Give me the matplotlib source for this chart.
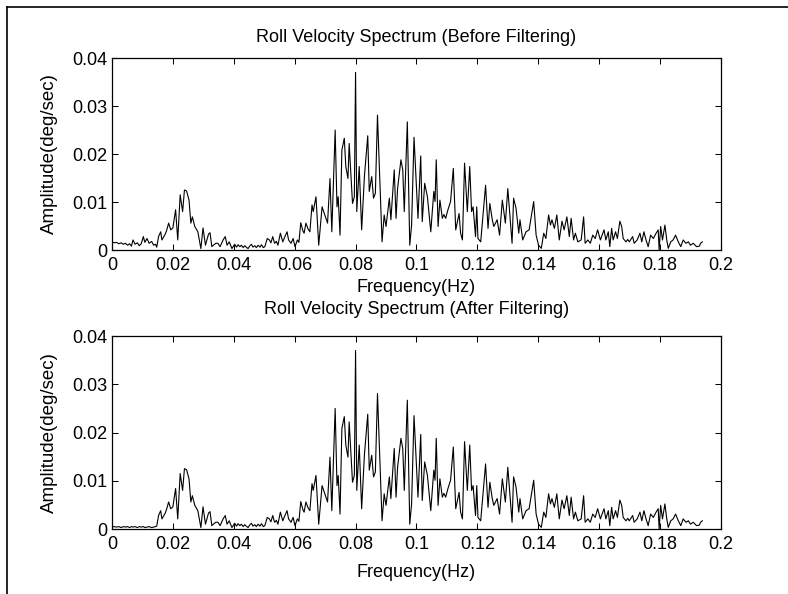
import numpy as np
import matplotlib
matplotlib.use("Agg")
import matplotlib.pyplot as plt
from matplotlib.lines import Line2D

plt.rcParams["font.family"] = ["Liberation Sans", "DejaVu Sans"]

# frequency (Hz) and amplitude (1e-3 deg/sec)
freq = [
    0.0000, 0.0008, 0.0015, 0.0022, 0.0030, 0.0037, 0.0044, 0.0051, 0.0058, 0.0064,
    0.0069, 0.0076, 0.0083, 0.0090, 0.0096, 0.0103, 0.0108, 0.0115, 0.0122, 0.0130,
    0.0137, 0.0143, 0.0147, 0.0153, 0.0160, 0.0164, 0.0175, 0.0180, 0.0186, 0.0193,
    0.0200, 0.0209, 0.0216, 0.0224, 0.0232, 0.0238, 0.0245, 0.0253, 0.0259, 0.0264,
    0.0272, 0.0282, 0.0292, 0.0299, 0.0307, 0.0317, 0.0322, 0.0328, 0.0333, 0.0341,
    0.0348, 0.0355, 0.0365, 0.0372, 0.0378, 0.0385, 0.0394, 0.0403, 0.0409, 0.0414,
    0.0420, 0.0425, 0.0431, 0.0436, 0.0441, 0.0447, 0.0452, 0.0458, 0.0463, 0.0469,
    0.0474, 0.0480, 0.0486, 0.0491, 0.0497, 0.0502, 0.0510, 0.0517, 0.0522, 0.0528,
    0.0534, 0.0540, 0.0545, 0.0553, 0.0561, 0.0568, 0.0575, 0.0580, 0.0588, 0.0595,
    0.0601, 0.0609, 0.0614, 0.0620, 0.0627, 0.0631, 0.0637, 0.0644, 0.0650, 0.0657,
    0.0661, 0.0670, 0.0679, 0.0690, 0.0701, 0.0708, 0.0716, 0.0722, 0.0733, 0.0739,
    0.0743, 0.0749, 0.0755, 0.0763, 0.0768, 0.0775, 0.0779, 0.0790, 0.0796, 0.0800,
    0.0804, 0.0812, 0.0820, 0.0829, 0.0840, 0.0845, 0.0853, 0.0859, 0.0865, 0.0872,
    0.0887, 0.0894, 0.0900, 0.0911, 0.0916, 0.0927, 0.0933, 0.0938, 0.0949, 0.0955,
    0.0960, 0.0970, 0.0978, 0.0984, 0.0992, 0.1005, 0.1014, 0.1019, 0.1027, 0.1036,
    0.1047, 0.1057, 0.1061, 0.1065, 0.1071, 0.1077, 0.1085, 0.1090, 0.1096, 0.1103,
    0.1112, 0.1121, 0.1129, 0.1140, 0.1145, 0.1151, 0.1158, 0.1167, 0.1175, 0.1181,
    0.1186, 0.1194, 0.1198, 0.1202, 0.1211, 0.1227, 0.1235, 0.1241, 0.1249, 0.1254,
    0.1265, 0.1273, 0.1282, 0.1292, 0.1300, 0.1314, 0.1319, 0.1327, 0.1336, 0.1340,
    0.1349, 0.1360, 0.1370, 0.1385, 0.1393, 0.1401, 0.1410, 0.1418, 0.1425, 0.1434,
    0.1440, 0.1445, 0.1453, 0.1461, 0.1469, 0.1478, 0.1485, 0.1494, 0.1502, 0.1508,
    0.1516, 0.1522, 0.1530, 0.1541, 0.1549, 0.1554, 0.1563, 0.1571, 0.1579, 0.1587,
    0.1595, 0.1604, 0.1616, 0.1622, 0.1630, 0.1635, 0.1641, 0.1646, 0.1654, 0.1660,
    0.1668, 0.1674, 0.1679, 0.1688, 0.1694, 0.1699, 0.1710, 0.1715, 0.1725, 0.1734,
    0.1740, 0.1747, 0.1754, 0.1761, 0.1769, 0.1778, 0.1787, 0.1794, 0.1797, 0.1802,
    0.1808, 0.1816, 0.1822, 0.1827, 0.1835, 0.1843, 0.1851, 0.1860, 0.1868, 0.1876,
    0.1885, 0.1893, 0.1900, 0.1909, 0.1920, 0.1929, 0.1933, 0.1939,
]

amp_before = [
    1.7, 1.5, 1.6, 1.3, 1.5, 1.2, 1.4, 1.0, 1.3, 0.8,
    2.1, 1.2, 1.5, 0.9, 1.3, 2.8, 1.6, 2.4, 1.4, 1.8,
    1.0, 1.2, 0.6, 2.8, 3.8, 2.1, 3.3, 4.2, 5.6, 4.2,
    4.6, 8.4, 2.1, 11.5, 8.0, 12.5, 12.3, 10.4, 5.6, 6.9,
    4.9, 3.8, 0.3, 4.6, 1.0, 3.3, 3.6, 0.7, 1.0, 1.4,
    1.4, 0.7, 2.1, 2.8, 1.0, 1.7, 0.3, 1.2, 0.6, 1.1,
    0.7, 1.0, 0.5, 0.9, 0.6, 0.3, 0.8, 1.2, 0.6, 0.9,
    0.5, 1.0, 0.6, 1.1, 0.5, 0.7, 2.4, 2.1, 1.5, 2.8,
    1.4, 1.8, 1.0, 3.5, 1.7, 2.8, 3.8, 2.1, 1.4, 2.4,
    0.7, 2.1, 1.6, 5.7, 4.0, 3.5, 5.6, 4.4, 3.8, 9.4,
    8.0, 11.1, 1.0, 9.0, 6.9, 5.6, 14.9, 3.8, 25.0, 9.0,
    11.1, 3.1, 20.8, 23.3, 17.4, 14.9, 22.2, 9.7, 11.1, 37.0,
    8.0, 17.4, 4.2, 15.3, 23.8, 12.2, 15.3, 10.8, 11.8, 28.1,
    1.7, 7.3, 4.9, 10.8, 6.3, 16.7, 6.6, 12.8, 18.8, 16.7,
    8.0, 26.7, 1.0, 5.2, 23.5, 6.6, 19.6, 5.9, 13.9, 11.1,
    3.8, 12.2, 10.1, 18.8, 4.9, 10.4, 6.6, 7.4, 6.6, 8.3,
    10.1, 17.0, 4.2, 7.6, 3.5, 2.1, 18.1, 8.0, 17.4, 8.0,
    9.0, 2.8, 9.0, 2.4, 1.7, 13.5, 4.5, 9.7, 6.3, 4.9,
    6.3, 3.1, 10.4, 5.6, 12.8, 1.4, 10.8, 8.7, 3.5, 6.3,
    2.1, 3.8, 4.2, 10.1, 3.1, 1.0, 0.35, 3.5, 2.4, 7.3,
    5.2, 6.3, 4.5, 7.3, 2.1, 6.0, 4.2, 6.9, 2.8, 6.6,
    2.1, 3.5, 1.7, 2.1, 6.9, 1.4, 2.1, 1.4, 3.1, 2.4,
    4.2, 2.1, 4.2, 2.1, 3.8, 0.7, 4.5, 2.1, 3.8, 2.4,
    6.0, 4.9, 2.4, 1.7, 2.2, 1.7, 2.8, 1.4, 2.1, 3.5,
    1.7, 3.8, 2.1, 0.7, 3.1, 2.4, 3.5, 4.2, 0.0, 4.9,
    2.1, 5.2, 2.1, 0.35, 1.7, 2.1, 3.1, 1.7, 0.7, 2.1,
    1.4, 1.7, 1.0, 1.4, 0.7, 0.8, 1.4, 1.7,
]

# after filtering only the lowest bins change (first 22 points)
amp_after_low = [
    0.4, 0.5, 0.4, 0.5, 0.3, 0.5, 0.4, 0.5, 0.3, 0.5, 0.4,
    0.5, 0.3, 0.5, 0.4, 0.5, 0.3, 0.4, 0.5, 0.3, 0.4, 0.5,
]

xticks = [0, 0.02, 0.04, 0.06, 0.08, 0.1, 0.12, 0.14, 0.16, 0.18, 0.2]
xtick_labels = ["0", "0.02", "0.04", "0.06", "0.08", "0.1", "0.12", "0.14", "0.16", "0.18", "0.2"]
yticks = [0, 0.01, 0.02, 0.03, 0.04]
ytick_labels = ["0", "0.01", "0.02", "0.03", "0.04"]

titles = ["Roll Velocity Spectrum (Before Filtering)", "Roll Velocity Spectrum (After Filtering)"]

FS = 13


def style_axes(ax, title, title_pad, xlabel_pad):
    ax.set_xlim(0, 0.2)
    ax.set_ylim(0, 0.04)
    ax.set_xticks(xticks)
    ax.set_xticklabels(xtick_labels)
    ax.set_yticks(yticks)
    ax.set_yticklabels(ytick_labels)
    ax.tick_params(direction="in", top=True, right=True, length=4, width=0.75,
                   labelsize=FS)
    ax.tick_params(axis="x", pad=5)
    ax.tick_params(axis="y", pad=3.5)
    for sp in ax.spines.values():
        sp.set_linewidth(0.9)
    ax.set_title(title, fontsize=FS, pad=title_pad)
    ax.set_xlabel("Frequency(Hz)", fontsize=FS, labelpad=xlabel_pad)
    ax.set_ylabel("Amplitude(deg/sec)", fontsize=FS + 0.5, labelpad=10)


def main():
    f = np.array(freq)
    before = np.array(amp_before) * 1e-3
    after = before.copy()
    after[:len(amp_after_low)] = np.array(amp_after_low) * 1e-3

    fig = plt.figure(figsize=(7.88, 5.94), dpi=100)
    ax1 = fig.add_axes([0.1421, 0.5791, 0.7728, 0.3232])
    ax2 = fig.add_axes([0.1421, 0.1094, 0.7728, 0.3249])

    ax1.plot(f, before, color="black", linewidth=0.8)
    ax2.plot(f, after, color="black", linewidth=0.8)

    style_axes(ax1, titles[0], title_pad=11.5, xlabel_pad=3.5)
    style_axes(ax2, titles[1], title_pad=16, xlabel_pad=8)

    # page frame around the figure
    fig.add_artist(Line2D([7 / 788, 1.0], [1 - 7 / 594, 1 - 7 / 594], color="black", linewidth=1.2))
    fig.add_artist(Line2D([7 / 788, 7 / 788], [0.0, 1 - 7 / 594], color="black", linewidth=1.2))

    fig.savefig("out.png", dpi=100)


if __name__ == "__main__":
    main()
